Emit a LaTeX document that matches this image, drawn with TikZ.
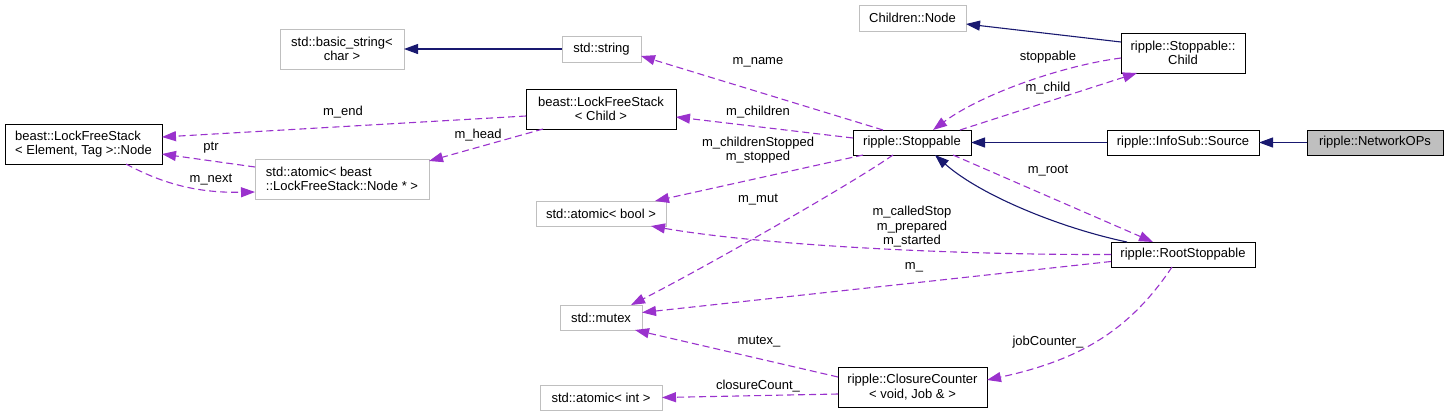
\documentclass[tikz,border=0pt]{standalone}
\usepackage{fontspec}
\setmainfont{Liberation Sans}
\usetikzlibrary{arrows.meta}
\definecolor{navy}{HTML}{191970}
\definecolor{orch}{HTML}{9A32CD}
\definecolor{gborder}{HTML}{BFBFBF}
\begin{document}
\begin{tikzpicture}[x=1pt,y=-1pt,
  base/.style={rectangle, inner sep=0pt, outer sep=0pt, line width=1pt,
    font=\fontsize{13}{14.5}\selectfont, align=center},
  gbox/.style={base, draw=gborder},
  bbox/.style={base, draw=black},
  inh/.style={draw=navy, line width=1.1pt, -{Triangle[length=14pt,width=10pt]}},
  use/.style={draw=orch, line width=1.1pt, dash pattern=on 7pt off 4pt,
    -{Triangle[length=14pt,width=10pt]}},
  lbl/.style={inner sep=0pt, font=\fontsize{13}{14.5}\selectfont, align=center}
]
\useasboundingbox (0,0) rectangle (1448,416);
% nodes
\node[bbox, minimum width=157pt, minimum height=40pt, align=left] (lfsnode) at (83.5,144) {beast::LockFreeStack\\< Element, Tag >::Node};
\node[gbox, minimum width=124pt, minimum height=40pt] (bstr) at (342,49) {std::basic\_string<\\char >};
\node[gbox, minimum width=174pt, minimum height=40pt, align=left] (aptr) at (342,179) {std::atomic< beast\\::LockFreeStack::Node * >};
\node[gbox, minimum width=79pt, minimum height=26pt] (sstr) at (601.5,49) {std::string};
\node[bbox, minimum width=150pt, minimum height=40pt] (lfschild) at (601,109) {beast::LockFreeStack\\< Child >};
\node[gbox, minimum width=107pt, minimum height=26pt] (cnode) at (912.5,18) {Children::Node};
\node[bbox, minimum width=118pt, minimum height=25pt] (stop) at (912,142.5) {ripple::Stoppable};
\node[bbox, minimum width=124pt, minimum height=40pt] (child) at (1183,53) {ripple::Stoppable::\\Child};
\node[bbox, minimum width=152pt, minimum height=25pt] (src) at (1183,142.5) {ripple::InfoSub::Source};
\node[bbox, fill=gborder, minimum width=136pt, minimum height=25pt] (nops) at (1375,142.5) {ripple::NetworkOPs};
\node[gbox, minimum width=130pt, minimum height=25pt] (abool) at (601,213.5) {std::atomic< bool >};
\node[gbox, minimum width=82pt, minimum height=25pt] (mtx) at (601,317.5) {std::mutex};
\node[bbox, minimum width=149pt, minimum height=40pt] (cc) at (912.5,387) {ripple::ClosureCounter\\< void, Job \& >};
\node[gbox, minimum width=122pt, minimum height=25pt] (aint) at (601,397.5) {std::atomic< int >};
\node[bbox, minimum width=144pt, minimum height=25pt] (root) at (1183,254.5) {ripple::RootStoppable};
% inheritance
\draw[inh] (sstr.west) -- (bstr.east);
\draw[inh] ([yshift=11pt]child.west) -- ([yshift=-6pt]cnode.east);
\draw[inh] (src.west) -- (stop.east);
\draw[inh] (nops.west) -- (src.east);
\draw[inh] ([xshift=-56pt]root.north) .. controls (1060,228) and (980,195) .. ([xshift=23pt]stop.south);
% usage
\draw[use] ([xshift=-29pt]stop.north) -- ([yshift=-7pt]sstr.east);
\draw[use] ([yshift=4.5pt]stop.west) -- ([yshift=-8pt]lfschild.east);
\draw[use] ([yshift=-7pt]lfschild.west) -- ([yshift=7pt]lfsnode.east);
\draw[use] ([xshift=-58pt]lfschild.south) -- ([yshift=-2pt]aptr.north east);
\draw[use] ([yshift=12pt]aptr.west) -- ([yshift=-10pt]lfsnode.east);
\draw[use] ([xshift=42.5pt]lfsnode.south) .. controls (165,185) and (200,193) .. ([yshift=-13pt]aptr.west);
\draw[use] ([yshift=-5pt]child.west) .. controls (1060,66) and (980,95) .. ([xshift=21pt]stop.north);
\draw[use] ([xshift=48pt]stop.north) -- ([xshift=-46pt]child.south);
\draw[use] ([xshift=41pt]stop.south) -- ([xshift=-30pt]root.north);
\draw[use] ([xshift=-49pt]stop.south) -- ([xshift=54pt]abool.north);
\draw[use] ([xshift=-19pt]stop.south) .. controls (850,185) and (700,270) .. ([xshift=30pt]mtx.north);
\draw[use] (root.west) .. controls (950,255) and (760,245) .. ([xshift=50pt]abool.south);
\draw[use] ([yshift=-7pt]root.west) -- ([yshift=5pt]mtx.east);
\draw[use] ([yshift=10pt]cc.west) -- ([xshift=34pt]mtx.south);
\draw[use] ([yshift=-7pt]cc.west) -- (aint.east);
\draw[use] ([xshift=-11pt]root.south) .. controls (1130,330) and (1080,360) .. ([yshift=7pt]cc.east);
% labels
\node[lbl] (lname) at (758,62) {m\_name};
\node[lbl] (lchildren) at (758,112) {m\_children};
\node[lbl] (lend) at (343,112) {m\_end};
\node[lbl] (lhead) at (478,135) {m\_head};
\node[lbl] (lptr) at (211,148) {ptr};
\node[lbl] (lnext) at (211,180) {m\_next};
\node[lbl] (lstoppable) at (1048,57) {stoppable};
\node[lbl] (lchild) at (1048,88) {m\_child};
\node[lbl] (lroot) at (1048,171) {m\_root};
\node[lbl] (lstopped) at (758,150) {m\_childrenStopped\\m\_stopped};
\node[lbl] (lmut) at (758,200) {m\_mut};
\node[lbl] (lcalled) at (912,227) {m\_calledStop\\m\_prepared\\m\_started};
\node[lbl] (lm) at (914,267) {m\_};
\node[lbl] (lmutex) at (759,342) {mutex\_};
\node[lbl] (lcount) at (758,386) {closureCount\_};
\node[lbl] (ljob) at (1048,342) {jobCounter\_};
\end{tikzpicture}
\end{document}
